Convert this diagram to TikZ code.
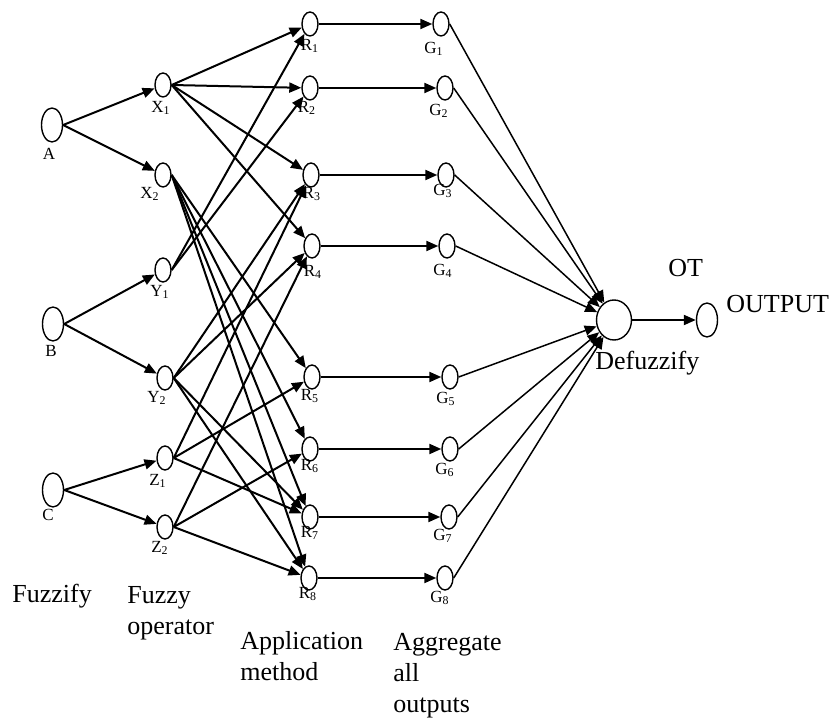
\documentclass[tikz,border=0pt]{standalone}
\usepackage{fontspec}
\setmainfont{Liberation Serif}
\usetikzlibrary{arrows.meta,shapes.geometric}

\begin{document}
\begin{tikzpicture}[
    x=0.5pt, y=-0.5pt,
    unit/.style={ellipse, draw, line width=0.7pt, inner sep=0pt,
                 minimum width=8pt, minimum height=12pt},
    inunit/.style={unit, minimum width=10.5pt, minimum height=17pt},
    lab/.style={font=\fontsize{8.5}{9}\selectfont, inner sep=0pt},
    stage/.style={font=\fontsize{13}{15.5}\selectfont, align=left,
                  inner sep=0pt, anchor=base west},
    arr/.style={-{Triangle[length=6pt,width=5pt]}, line width=1pt},
    thinarr/.style={arr, line width=0.75pt},
]
    \useasboundingbox (0,0) rectangle (836,721);

    % inputs
    \node[inunit] (A) at (52,125) {};
    \node[inunit] (B) at (53,324) {};
    \node[inunit] (C) at (53,490) {};
    \node[lab] (lA) at (49,154) {A};
    \node[lab] (lB) at (51,351) {B};
    \node[lab] (lC) at (48,515) {C};

    % fuzzy operator layer
    \node[unit] (X1) at (163,85) {};
    \node[unit] (X2) at (163,175) {};
    \node[unit] (Y1) at (163,270) {};
    \node[unit] (Y2) at (165,378) {};
    \node[unit] (Z1) at (165,458) {};
    \node[unit] (Z2) at (165,527) {};
    \node[lab] (lX1) at (161,108) {X\textsubscript{1}};
    \node[lab] (lX2) at (150,194) {X\textsubscript{2}};
    \node[lab] (lY1) at (160,292) {Y\textsubscript{1}};
    \node[lab] (lY2) at (157,398) {Y\textsubscript{2}};
    \node[lab] (lZ1) at (158,481) {Z\textsubscript{1}};
    \node[lab] (lZ2) at (160,548) {Z\textsubscript{2}};

    % rules
    \node[unit] (R1) at (310,24) {};
    \node[unit] (R2) at (310,88) {};
    \node[unit] (R3) at (311,175) {};
    \node[unit] (R4) at (312,246) {};
    \node[unit] (R5) at (312,377) {};
    \node[unit] (R6) at (310,449) {};
    \node[unit] (R7) at (310,517) {};
    \node[unit] (R8) at (309,578) {};
    \node[lab] (lR1) at (310,46) {R\textsubscript{1}};
    \node[lab] (lR2) at (307,108) {R\textsubscript{2}};
    \node[lab] (lR3) at (312,194) {R\textsubscript{3}};
    \node[lab] (lR4) at (313,272) {R\textsubscript{4}};
    \node[lab] (lR5) at (310,396) {R\textsubscript{5}};
    \node[lab] (lR6) at (310,466) {R\textsubscript{6}};
    \node[lab] (lR7) at (310,533) {R\textsubscript{7}};
    \node[lab] (lR8) at (308,594) {R\textsubscript{8}};

    % aggregation
    \node[unit] (G1) at (441,24) {};
    \node[unit] (G2) at (445,88) {};
    \node[unit] (G3) at (446,175) {};
    \node[unit] (G4) at (447,246) {};
    \node[unit] (G5) at (450,377) {};
    \node[unit] (G6) at (450,449) {};
    \node[unit] (G7) at (449,517) {};
    \node[unit] (G8) at (445,578) {};
    \node[lab] (lG1) at (434,49) {G\textsubscript{1}};
    \node[lab] (lG2) at (439,111) {G\textsubscript{2}};
    \node[lab] (lG3) at (443,191) {G\textsubscript{3}};
    \node[lab] (lG4) at (443,271) {G\textsubscript{4}};
    \node[lab] (lG5) at (446,399) {G\textsubscript{5}};
    \node[lab] (lG6) at (445,470) {G\textsubscript{6}};
    \node[lab] (lG7) at (443,536) {G\textsubscript{7}};
    \node[lab] (lG8) at (440,598) {G\textsubscript{8}};

    % defuzzify and output
    \node[unit, minimum width=17.5pt, minimum height=20pt] (D) at (614,320) {};
    \node[inunit] (O) at (707,320) {};

    % stage captions (base = last line)
    \node[stage] (fuzzify) at (12,603) {Fuzzify};
    \node[stage] (fuzzyop) at (127,634) {Fuzzy\\operator};
    \node[stage] (appl) at (240,681) {Application\\method};
    \node[stage] (aggr) at (393,712) {Aggregate\\all\\outputs};
    \node[stage] (defuzz) at (595,370) {Defuzzify};
    \node[stage] (ot) at (668,277) {OT};
    \node[stage] (output) at (726,313) {OUTPUT};

    % connections
    \draw[arr] (A.east) -- (X1);
    \draw[arr] (A.east) -- (X2);
    \draw[arr] (B.east) -- (Y1);
    \draw[arr] (B.east) -- (Y2);
    \draw[arr] (C.east) -- (Z1);
    \draw[arr] (C.east) -- (Z2);

    \foreach \r in {1,2,3,4} \draw[arr] (X1.east) -- (R\r);
    \foreach \r in {5,6,7,8} \draw[arr] (X2.east) -- (R\r);
    \foreach \r in {1,2} \draw[arr] (Y1.east) -- (R\r);
    \foreach \r in {3,4,7,8} \draw[arr] (Y2.east) -- (R\r);
    \foreach \r in {3,5,7} \draw[arr] (Z1.east) -- (R\r);
    \foreach \r in {4,6,8} \draw[arr] (Z2.east) -- (R\r);

    \foreach \i in {1,...,8} {
        \draw[arr] (R\i.east) -- (G\i);
        \draw[thinarr] (G\i.east) -- (D);
    }
    \draw[arr] (D.east) -- (O);
\end{tikzpicture}
\end{document}
